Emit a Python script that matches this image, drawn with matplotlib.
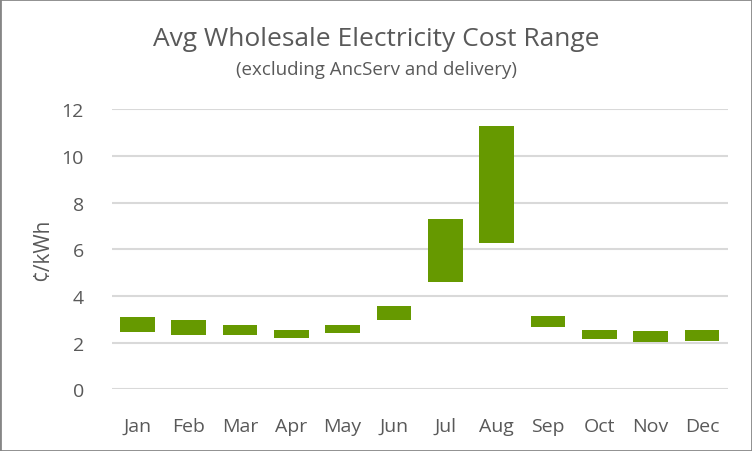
import numpy as np
import matplotlib.pyplot as plt
from matplotlib.patches import Rectangle

# monthly wholesale cost range (cents/kWh)
months = ["Jan", "Feb", "Mar", "Apr", "May", "Jun",
          "Jul", "Aug", "Sep", "Oct", "Nov", "Dec"]
low = [2.47, 2.34, 2.34, 2.21, 2.42, 2.98, 4.61, 6.28, 2.68, 2.17, 2.04, 2.08]
high = [3.10, 2.97, 2.77, 2.55, 2.77, 3.57, 7.29, 11.29, 3.14, 2.54, 2.50, 2.54]

plt.rcParams['font.family'] = ['Open Sans', 'DejaVu Sans']
grey = '#595959'

fig = plt.figure(figsize=(7.52, 4.52), dpi=100)
ax = fig.add_axes([0.1485, 0.1365, 0.8192, 0.6199])

x = np.arange(len(months))
heights = np.array(high) - np.array(low)
ax.bar(x, heights, bottom=low, width=0.68, color='#669900', zorder=3)

ax.set_xlim(-0.5, len(months) - 0.5)
ax.set_ylim(0, 12)
ax.set_yticks(range(0, 13, 2))
ax.set_xticks(x)
ax.set_xticklabels(months)
ax.grid(axis='y', color='#d9d9d9', linewidth=1.5, zorder=0)
for s in ax.spines.values():
    s.set_visible(False)
ax.tick_params(axis='both', length=0, labelsize=14, colors=grey)
ax.tick_params(axis='x', pad=20)
ax.tick_params(axis='y', pad=20)
ax.set_ylabel('¢/kWh', fontsize=15, color=grey, labelpad=6)

fig.text(0.5, 0.913, 'Avg Wholesale Electricity Cost Range', ha='center',
         va='center', fontsize=19, color=grey)
fig.text(0.5, 0.845, '(excluding AncServ and delivery)', ha='center',
         va='center', fontsize=13.5, color=grey)

fig.patches.append(Rectangle((0, 0), 1, 1, transform=fig.transFigure,
                             fill=False, edgecolor='#868686', linewidth=2))

plt.savefig('out.png', dpi=100)
